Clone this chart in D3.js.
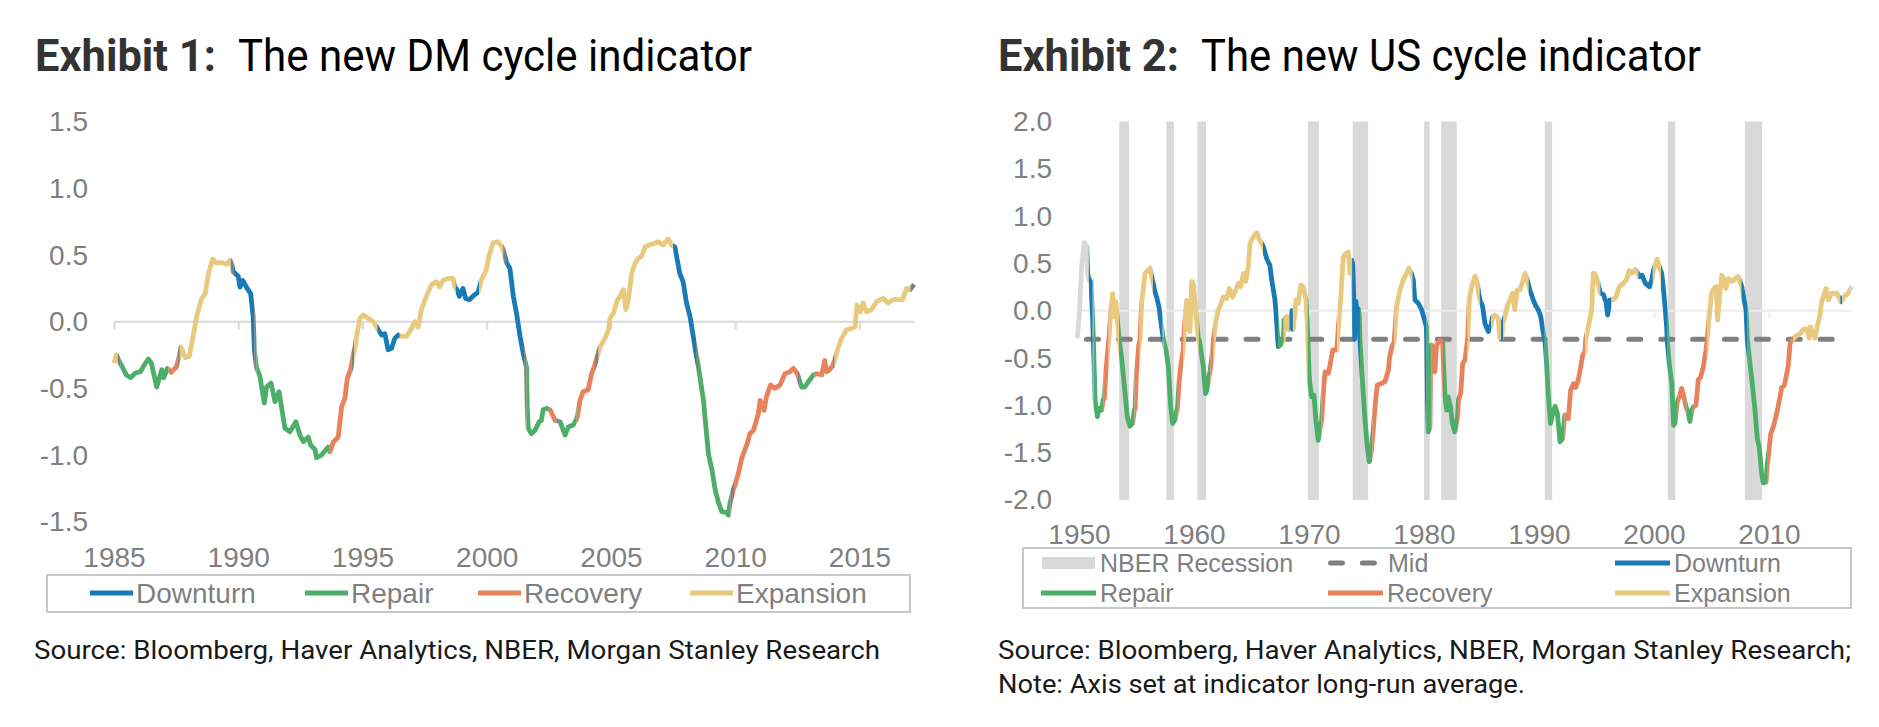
<!DOCTYPE html>
<html><head><meta charset="utf-8">
<script src="https://cdn.jsdelivr.net/npm/d3@7/dist/d3.min.js"></script>
<style>body{margin:0;background:#fff}svg{display:block}</style>
</head><body>
<svg id="c" width="1879" height="727"></svg>
<script>
// ---------- DATA ----------
const phaseNames = {D:"Downturn", R:"Repair", C:"Recovery", E:"Expansion"};
const legendOrder = ["D","R","C","E"];

const dmYTicks = [-1.5,-1.0,-0.5,0,0.5,1.0,1.5];
const dmXTicks = [1985,1990,1995,2000,2005,2010,2015];
const usYTicks = [-2.0,-1.5,-1.0,-0.5,0,0.5,1.0,1.5,2.0];
const usXTicks = [1950,1960,1970,1980,1990,2000,2010];

// [year, value]
const dmSeries = [[1985.0,-0.31],[1985.1,-0.25],[1985.25,-0.31],[1985.5,-0.40],[1985.67,-0.42],[1985.86,-0.385],[1986.06,-0.375],[1986.2,-0.33],[1986.38,-0.28],[1986.5,-0.31],[1986.72,-0.49],[1986.92,-0.36],[1987.0,-0.42],[1987.15,-0.35],[1987.3,-0.38],[1987.5,-0.34],[1987.6,-0.28],[1987.7,-0.19],[1987.87,-0.27],[1988.03,-0.26],[1988.2,-0.09],[1988.33,0.04],[1988.53,0.175],[1988.67,0.21],[1988.8,0.36],[1988.97,0.47],[1989.13,0.44],[1989.33,0.445],[1989.53,0.43],[1989.67,0.46],[1989.75,0.42],[1989.8,0.375],[1990.0,0.34],[1990.07,0.26],[1990.18,0.31],[1990.34,0.255],[1990.5,0.21],[1990.6,0.04],[1990.65,-0.21],[1990.73,-0.34],[1990.87,-0.41],[1991.05,-0.61],[1991.14,-0.49],[1991.32,-0.46],[1991.48,-0.60],[1991.64,-0.525],[1991.88,-0.80],[1992.08,-0.825],[1992.32,-0.75],[1992.48,-0.85],[1992.62,-0.90],[1992.82,-0.865],[1992.91,-0.925],[1993.09,-0.96],[1993.15,-1.02],[1993.35,-1.0],[1993.62,-0.94],[1993.69,-0.975],[1993.82,-0.905],[1994.02,-0.865],[1994.16,-0.64],[1994.29,-0.575],[1994.39,-0.425],[1994.52,-0.36],[1994.62,-0.26],[1994.7,-0.19],[1994.77,-0.10],[1994.9,0.025],[1995.03,0.05],[1995.23,0.025],[1995.43,0.0],[1995.57,-0.04],[1995.63,-0.06],[1995.77,-0.10],[1995.9,-0.09],[1996.03,-0.21],[1996.17,-0.20],[1996.3,-0.125],[1996.44,-0.10],[1996.57,-0.11],[1996.77,-0.11],[1996.97,-0.05],[1997.1,0.0],[1997.24,-0.04],[1997.37,0.09],[1997.57,0.19],[1997.77,0.275],[1997.97,0.30],[1998.1,0.26],[1998.24,0.31],[1998.44,0.325],[1998.64,0.325],[1998.7,0.265],[1998.8,0.24],[1998.9,0.19],[1999.04,0.25],[1999.15,0.175],[1999.3,0.165],[1999.5,0.20],[1999.65,0.22],[1999.78,0.31],[1999.98,0.39],[2000.1,0.50],[2000.25,0.59],[2000.45,0.60],[2000.6,0.565],[2000.68,0.53],[2000.8,0.44],[2000.93,0.40],[2001.07,0.19],[2001.2,0.06],[2001.34,-0.11],[2001.47,-0.24],[2001.6,-0.34],[2001.63,-0.64],[2001.67,-0.80],[2001.8,-0.84],[2001.94,-0.815],[2002.11,-0.75],[2002.2,-0.74],[2002.27,-0.66],[2002.4,-0.65],[2002.55,-0.66],[2002.75,-0.74],[2002.95,-0.75],[2003.15,-0.85],[2003.28,-0.79],[2003.48,-0.775],[2003.59,-0.74],[2003.65,-0.71],[2003.75,-0.59],[2003.88,-0.525],[2004.08,-0.51],[2004.22,-0.39],[2004.35,-0.325],[2004.45,-0.26],[2004.56,-0.19],[2004.76,-0.125],[2004.9,-0.06],[2004.96,0.025],[2005.1,0.065],[2005.23,0.15],[2005.36,0.19],[2005.5,0.24],[2005.6,0.09],[2005.7,0.165],[2005.83,0.36],[2005.97,0.44],[2006.1,0.475],[2006.23,0.49],[2006.37,0.56],[2006.54,0.575],[2006.7,0.585],[2006.9,0.60],[2007.1,0.575],[2007.3,0.62],[2007.44,0.575],[2007.57,0.56],[2007.77,0.36],[2007.9,0.30],[2008.04,0.14],[2008.18,0.04],[2008.31,-0.11],[2008.42,-0.24],[2008.52,-0.34],[2008.72,-0.59],[2008.92,-0.99],[2009.06,-1.11],[2009.19,-1.26],[2009.33,-1.36],[2009.46,-1.425],[2009.64,-1.43],[2009.72,-1.45],[2009.79,-1.36],[2009.92,-1.26],[2009.99,-1.225],[2010.12,-1.14],[2010.26,-1.025],[2010.46,-0.925],[2010.59,-0.84],[2010.73,-0.815],[2010.93,-0.69],[2011.0,-0.59],[2011.16,-0.665],[2011.26,-0.56],[2011.42,-0.475],[2011.6,-0.50],[2011.8,-0.475],[2012.0,-0.39],[2012.2,-0.375],[2012.34,-0.35],[2012.5,-0.39],[2012.6,-0.45],[2012.67,-0.49],[2012.8,-0.49],[2012.94,-0.45],[2013.14,-0.40],[2013.28,-0.39],[2013.48,-0.40],[2013.6,-0.29],[2013.68,-0.375],[2013.8,-0.36],[2013.92,-0.33],[2014.0,-0.29],[2014.15,-0.19],[2014.28,-0.125],[2014.48,-0.06],[2014.68,-0.05],[2014.82,-0.04],[2014.9,0.125],[2015.04,0.075],[2015.15,0.14],[2015.28,0.075],[2015.48,0.09],[2015.68,0.15],[2015.95,0.175],[2016.15,0.14],[2016.35,0.165],[2016.55,0.165],[2016.73,0.165],[2016.9,0.25],[2017.03,0.24],[2017.2,0.28]];

// [from, to, phase]  (N = unclassified)
const dmPhases = [[1985.0,1985.15,"E"],[1985.15,1985.25,"N"],[1985.25,1987.2,"R"],[1987.2,1987.55,"C"],[1987.55,1987.65,"N"],[1987.65,1989.7,"E"],[1989.7,1989.8,"N"],[1989.8,1990.64,"D"],[1990.64,1990.73,"N"],[1990.73,1993.65,"R"],[1993.65,1994.55,"C"],[1994.55,1994.66,"N"],[1994.66,1995.6,"E"],[1995.6,1996.5,"D"],[1996.5,1998.75,"E"],[1998.75,1999.7,"D"],[1999.7,2000.66,"E"],[2000.66,2000.78,"N"],[2000.78,2001.5,"D"],[2001.5,2001.6,"N"],[2001.6,2002.5,"R"],[2002.5,2002.8,"C"],[2002.8,2002.9,"N"],[2002.9,2003.62,"R"],[2003.62,2004.36,"C"],[2004.36,2004.5,"N"],[2004.5,2007.5,"E"],[2007.5,2008.42,"D"],[2008.42,2008.5,"N"],[2008.5,2009.8,"R"],[2009.8,2009.95,"N"],[2009.95,2012.5,"C"],[2012.5,2012.6,"N"],[2012.6,2013.2,"R"],[2013.2,2013.93,"C"],[2013.93,2014.0,"N"],[2014.0,2017.05,"E"],[2017.05,2017.2,"N"]];

const usSeries = [[1949.85,-0.29],[1950.03,-0.03],[1950.23,0.465],[1950.46,0.72],[1950.67,0.68],[1950.75,0.395],[1950.87,0.325],[1951.04,0.31],[1951.19,-0.10],[1951.25,-0.31],[1951.4,-0.94],[1951.6,-1.12],[1951.76,-1.03],[1951.97,-1.05],[1952.1,-0.94],[1952.2,-0.93],[1952.35,-0.63],[1952.55,-0.345],[1952.6,-0.30],[1952.75,-0.03],[1952.93,0.18],[1953.04,-0.06],[1953.2,0.095],[1953.36,-0.13],[1953.45,-0.25],[1953.5,-0.31],[1953.7,-0.49],[1954.0,-0.87],[1954.2,-1.12],[1954.43,-1.22],[1954.67,-1.19],[1954.8,-1.05],[1954.87,-1.04],[1955.0,-0.66],[1955.2,-0.36],[1955.3,-0.31],[1955.45,0.08],[1955.74,0.395],[1955.94,0.42],[1956.17,0.45],[1956.37,0.33],[1956.46,0.29],[1956.6,0.20],[1956.75,0.145],[1956.96,0.04],[1957.1,-0.10],[1957.24,-0.22],[1957.35,-0.31],[1957.56,-0.415],[1957.77,-0.59],[1957.97,-1.015],[1958.14,-1.19],[1958.35,-1.15],[1958.5,-1.05],[1958.55,-1.04],[1958.72,-0.73],[1958.84,-0.59],[1959.05,-0.43],[1959.1,-0.31],[1959.16,-0.17],[1959.36,0.11],[1959.5,-0.20],[1959.65,-0.22],[1959.8,0.31],[1959.94,0.29],[1960.17,-0.03],[1960.37,-0.29],[1960.46,-0.31],[1960.81,-0.59],[1961.0,-0.875],[1961.1,-0.85],[1961.25,-0.73],[1961.4,-0.63],[1961.45,-0.59],[1961.6,-0.45],[1961.7,-0.30],[1961.9,-0.115],[1962.1,0.0],[1962.4,0.095],[1962.55,0.145],[1962.84,0.13],[1963.07,0.235],[1963.36,0.145],[1963.56,0.2],[1963.86,0.29],[1964.06,0.255],[1964.3,0.395],[1964.5,0.31],[1964.72,0.465],[1964.87,0.71],[1965.16,0.78],[1965.45,0.825],[1965.68,0.75],[1965.9,0.71],[1966.03,0.675],[1966.32,0.55],[1966.6,0.48],[1966.76,0.325],[1966.9,0.22],[1967.04,0.115],[1967.13,-0.02],[1967.25,-0.24],[1967.33,-0.38],[1967.53,-0.36],[1967.77,-0.31],[1967.83,-0.10],[1968.06,-0.06],[1968.2,-0.2],[1968.35,-0.15],[1968.5,0.0],[1968.63,-0.2],[1968.87,0.115],[1969.07,0.08],[1969.28,0.27],[1969.5,0.255],[1969.74,0.115],[1969.85,-0.13],[1969.9,-0.31],[1970.03,-0.73],[1970.23,-0.91],[1970.43,-0.89],[1970.6,-1.155],[1970.8,-1.37],[1971.04,-1.19],[1971.1,-1.155],[1971.24,-0.875],[1971.4,-0.645],[1971.68,-0.66],[1971.83,-0.575],[1972.06,-0.415],[1972.4,-0.415],[1972.48,-0.31],[1972.55,-0.17],[1972.75,0.115],[1972.98,0.57],[1973.2,0.605],[1973.42,0.62],[1973.56,0.395],[1973.7,0.535],[1973.8,0.5],[1973.9,0.115],[1973.97,-0.3],[1974.08,0.1],[1974.2,-0.05],[1974.3,0.02],[1974.37,-0.045],[1974.43,-0.31],[1974.66,-0.77],[1974.87,-1.155],[1975.07,-1.44],[1975.24,-1.595],[1975.4,-1.5],[1975.54,-1.33],[1975.74,-1.015],[1975.94,-0.785],[1976.3,-0.77],[1976.6,-0.75],[1976.9,-0.63],[1977.0,-0.5],[1977.2,-0.38],[1977.4,-0.33],[1977.48,-0.2],[1977.62,0.04],[1977.9,0.22],[1978.2,0.325],[1978.47,0.395],[1978.7,0.45],[1978.9,0.395],[1979.07,0.325],[1979.2,0.115],[1979.5,0.08],[1979.8,0.01],[1980.1,-0.12],[1980.2,-0.17],[1980.24,-0.31],[1980.3,-0.94],[1980.37,-1.28],[1980.52,-1.225],[1980.58,-0.52],[1980.67,-0.36],[1980.8,-0.59],[1980.94,-0.645],[1981.1,-0.36],[1981.4,-0.31],[1981.62,-0.33],[1981.67,-0.50],[1981.83,-0.91],[1981.97,-1.05],[1982.1,-0.91],[1982.3,-1.015],[1982.47,-1.19],[1982.67,-1.28],[1982.9,-1.14],[1983.0,-0.94],[1983.19,-0.875],[1983.36,-0.56],[1983.56,-0.52],[1983.71,-0.38],[1983.8,-0.28],[1983.94,0.115],[1984.14,0.255],[1984.43,0.365],[1984.63,0.29],[1984.8,0.15],[1984.86,0.115],[1985.1,0.045],[1985.3,-0.135],[1985.6,-0.22],[1985.8,-0.17],[1985.97,-0.06],[1986.17,-0.045],[1986.46,-0.08],[1986.6,-0.28],[1986.76,-0.29],[1986.84,-0.135],[1987.04,-0.06],[1987.24,0.045],[1987.48,0.115],[1987.71,0.185],[1987.9,0.01],[1988.1,0.22],[1988.35,0.22],[1988.58,0.31],[1988.78,0.395],[1988.98,0.325],[1989.2,0.22],[1989.5,0.115],[1989.74,0.045],[1989.94,0.01],[1990.15,-0.06],[1990.32,-0.20],[1990.46,-0.29],[1990.52,-0.31],[1990.67,-0.575],[1990.8,-0.875],[1991.0,-1.19],[1991.2,-1.085],[1991.4,-1.01],[1991.6,-1.085],[1991.83,-1.385],[1992.06,-1.35],[1992.17,-1.19],[1992.26,-1.1],[1992.55,-1.14],[1992.75,-0.84],[1993.0,-0.77],[1993.2,-0.81],[1993.42,-0.73],[1993.57,-0.63],[1993.8,-0.47],[1994.0,-0.43],[1994.05,-0.31],[1994.29,-0.17],[1994.58,0.01],[1994.72,0.395],[1994.87,0.39],[1995.07,0.325],[1995.3,0.2],[1995.36,0.185],[1995.6,0.17],[1995.82,0.095],[1995.97,-0.045],[1996.17,0.115],[1996.4,0.115],[1996.7,0.145],[1996.98,0.255],[1997.33,0.29],[1997.6,0.325],[1997.85,0.425],[1998.1,0.395],[1998.4,0.435],[1998.6,0.395],[1998.7,0.36],[1998.96,0.375],[1999.25,0.29],[1999.6,0.255],[1999.8,0.325],[1999.96,0.43],[2000.28,0.545],[2000.5,0.45],[2000.67,0.395],[2000.8,0.255],[2000.96,0.045],[2001.1,-0.17],[2001.15,-0.31],[2001.33,-0.56],[2001.55,-0.77],[2001.7,-1.21],[2001.83,-1.19],[2001.97,-1.015],[2002.03,-0.96],[2002.2,-0.91],[2002.4,-0.82],[2002.6,-0.91],[2002.78,-1.015],[2002.9,-1.05],[2003.13,-1.17],[2003.3,-1.05],[2003.42,-1.015],[2003.65,-1.0],[2003.85,-0.73],[2004.06,-0.7],[2004.29,-0.59],[2004.52,-0.415],[2004.62,-0.31],[2004.8,-0.06],[2005.0,0.185],[2005.2,0.235],[2005.4,0.255],[2005.54,-0.10],[2005.68,0.115],[2005.9,0.375],[2006.1,0.325],[2006.26,0.235],[2006.46,0.34],[2006.76,0.31],[2007.04,0.34],[2007.33,0.36],[2007.54,0.29],[2007.63,0.255],[2007.83,0.115],[2008.0,0.01],[2008.08,-0.20],[2008.12,-0.31],[2008.35,-0.56],[2008.58,-0.81],[2008.78,-1.05],[2008.98,-1.35],[2009.15,-1.44],[2009.36,-1.72],[2009.5,-1.82],[2009.74,-1.81],[2009.85,-1.62],[2009.94,-1.54],[2010.15,-1.30],[2010.37,-1.23],[2010.67,-1.085],[2010.96,-0.91],[2011.1,-0.81],[2011.33,-0.79],[2011.54,-0.665],[2011.68,-0.575],[2011.83,-0.345],[2012.06,-0.31],[2012.26,-0.275],[2012.7,-0.24],[2012.98,-0.2],[2013.27,-0.19],[2013.5,-0.29],[2013.6,-0.17],[2014.0,-0.29],[2014.2,-0.17],[2014.43,-0.045],[2014.58,0.095],[2014.96,0.235],[2015.16,0.115],[2015.46,0.185],[2015.9,0.185],[2016.12,0.13],[2016.25,0.095],[2016.52,0.15],[2016.9,0.185],[2017.1,0.235],[2017.2,0.26]];

const usPhases = [[1949.85,1950.85,"N"],[1950.85,1951.2,"D"],[1951.2,1951.25,"N"],[1951.25,1952.15,"R"],[1952.15,1952.58,"C"],[1952.58,1953.48,"E"],[1953.48,1954.83,"R"],[1954.83,1955.28,"C"],[1955.28,1956.42,"E"],[1956.42,1957.28,"D"],[1957.28,1957.35,"N"],[1957.35,1958.52,"R"],[1958.52,1959.08,"C"],[1959.08,1960.42,"E"],[1960.42,1961.42,"R"],[1961.42,1961.7,"C"],[1961.7,1966.0,"E"],[1966.0,1967.3,"D"],[1967.3,1967.8,"R"],[1967.8,1968.3,"E"],[1968.3,1968.6,"D"],[1968.6,1969.88,"E"],[1969.88,1971.07,"R"],[1971.07,1972.44,"C"],[1972.44,1972.5,"N"],[1972.5,1973.75,"E"],[1973.75,1974.43,"D"],[1974.43,1975.5,"R"],[1975.5,1977.44,"C"],[1977.44,1979.0,"E"],[1979.0,1980.22,"D"],[1980.22,1980.62,"R"],[1980.62,1981.65,"C"],[1981.65,1982.95,"R"],[1982.95,1983.78,"C"],[1983.78,1984.85,"E"],[1984.85,1985.85,"D"],[1985.85,1986.7,"E"],[1986.7,1986.9,"D"],[1986.9,1989.1,"E"],[1989.1,1990.5,"D"],[1990.5,1992.22,"R"],[1992.22,1994.0,"C"],[1994.0,1994.08,"N"],[1994.08,1995.33,"E"],[1995.33,1996.3,"D"],[1996.3,1998.65,"E"],[1998.65,1999.9,"D"],[1999.9,2000.6,"E"],[2000.6,2001.14,"D"],[2001.14,2002.0,"R"],[2002.0,2002.82,"C"],[2002.82,2003.38,"R"],[2003.38,2004.6,"C"],[2004.6,2007.6,"E"],[2007.6,2008.1,"D"],[2008.1,2009.9,"R"],[2009.9,2012.08,"C"],[2012.08,2016.2,"E"],[2016.2,2016.35,"D"],[2016.35,2017.1,"E"],[2017.1,2017.2,"N"]];

const usRecessions = [[1953.5,1954.35],[1957.6,1958.25],[1960.3,1961.05],[1969.9,1970.85],[1973.8,1975.15],[1980.0,1980.5],[1981.5,1982.85],[1990.5,1991.15],[2001.2,2001.85],[2007.9,2009.4]];
const usMid = -0.3;
const usMidSpan = [1950.65, 2015.65];

// ---------- STYLE ----------
const colors = {D:"#187bb5", R:"#4cae69", C:"#e8825d", E:"#e8c97e"};
const grayAxis = "#7f7f7f";
const svg = d3.select("#c");
const defs = svg.append("defs");

function drawSeries(g, data, phases, x, y, noneColor, id) {
  const line = d3.line().x(d => x(d[0])).y(d => y(d[1]));
  phases.forEach((p, i) => {
    const cid = id + "clip" + i;
    const x0 = x(p[0]) - (i === 0 ? 4 : 0);
    const x1 = x(p[1]) + (i === phases.length - 1 ? 4 : 0);
    defs.append("clipPath").attr("id", cid).append("rect")
      .attr("x", x0).attr("y", 0).attr("width", x1 - x0).attr("height", 727);
    g.append("path").datum(data).attr("d", line)
      .attr("clip-path", `url(#${cid})`)
      .attr("fill", "none")
      .attr("stroke", p[2] === "N" ? noneColor : colors[p[2]])
      .attr("stroke-width", 4.8)
      .attr("stroke-linejoin", "round");
  });
}

function styleAxisText(g, size) {
  g.selectAll("text").attr("font-family", "'Liberation Sans', Arial, sans-serif")
    .attr("font-size", size).attr("fill", grayAxis);
  g.select(".domain").remove();
}
const fmt = d => d.toFixed(1);

// ---------- CHART 1 ----------
{
  const x = d3.scaleLinear().domain([1985, 2015]).range([114, 859.5]);
  const y = d3.scaleLinear().domain([-1.5, 1.5]).range([521.7, 121.7]);
  const g = svg.append("g");

  g.append("text").attr("x", 35).attr("y", 71).attr("font-family", "Roboto, sans-serif")
    .attr("font-size", 44).attr("font-weight", "bold").attr("fill", "#333")
    .attr("textLength", 181).attr("lengthAdjust", "spacingAndGlyphs").text("Exhibit 1:");
  g.append("text").attr("x", 238).attr("y", 71).attr("font-family", "Roboto, sans-serif")
    .attr("font-size", 44).attr("fill", "#000")
    .attr("textLength", 514).attr("lengthAdjust", "spacingAndGlyphs").text("The new DM cycle indicator");

  const ya = g.append("g").attr("transform", "translate(91,0)")
    .call(d3.axisLeft(y).tickValues(dmYTicks).tickFormat(fmt).tickSize(0).tickPadding(3));
  styleAxisText(ya, 28);

  g.append("line").attr("x1", x(1985)).attr("x2", x(2017.2)).attr("y1", y(0)).attr("y2", y(0))
    .attr("stroke", "#d9d9d9").attr("stroke-width", 2);
  const tk = g.append("g").attr("transform", `translate(0,${y(0)})`)
    .call(d3.axisBottom(x).tickValues(dmXTicks).tickFormat("").tickSize(8));
  tk.select(".domain").remove();
  tk.selectAll("line").attr("stroke", "#d9d9d9").attr("stroke-width", 2);

  const xa = g.append("g").attr("transform", "translate(0,547)")
    .call(d3.axisBottom(x).tickValues(dmXTicks).tickFormat(d3.format("d")).tickSize(0).tickPadding(0));
  styleAxisText(xa, 28);

  drawSeries(g.append("g"), dmSeries, dmPhases, x, y, "#808080", "dm");

  g.append("rect").attr("x", 47).attr("y", 575).attr("width", 863).attr("height", 37)
    .attr("fill", "none").attr("stroke", "#c8c8c8").attr("stroke-width", 2);
  const lx = [90, 305, 478, 690];
  legendOrder.forEach((k, i) => {
    g.append("line").attr("x1", lx[i]).attr("x2", lx[i] + 43).attr("y1", 593).attr("y2", 593)
      .attr("stroke", colors[k]).attr("stroke-width", 4.8);
    g.append("text").attr("x", lx[i] + 46).attr("y", 603)
      .attr("font-family", "'Liberation Sans', Arial, sans-serif").attr("font-size", 28)
      .attr("fill", grayAxis).text(phaseNames[k]);
  });

  g.append("text").attr("x", 34).attr("y", 659).attr("font-family", "Roboto, sans-serif")
    .attr("font-size", 25).attr("fill", "#1a1a1a")
    .attr("textLength", 846).attr("lengthAdjust", "spacingAndGlyphs")
    .text("Source: Bloomberg, Haver Analytics, NBER, Morgan Stanley Research");
}

// ---------- CHART 2 ----------
{
  const x = d3.scaleLinear().domain([1950, 2010]).range([1079, 1769]);
  const y = d3.scaleLinear().domain([-2, 2]).range([500, 121.5]);
  const g = svg.append("g");

  g.append("text").attr("x", 998).attr("y", 71).attr("font-family", "Roboto, sans-serif")
    .attr("font-size", 44).attr("font-weight", "bold").attr("fill", "#333")
    .attr("textLength", 181).attr("lengthAdjust", "spacingAndGlyphs").text("Exhibit 2:");
  g.append("text").attr("x", 1201).attr("y", 71).attr("font-family", "Roboto, sans-serif")
    .attr("font-size", 44).attr("fill", "#000")
    .attr("textLength", 500).attr("lengthAdjust", "spacingAndGlyphs").text("The new US cycle indicator");

  g.selectAll("rect.rec").data(usRecessions).join("rect").attr("class", "rec")
    .attr("x", d => x(d[0])).attr("width", d => x(d[1]) - x(d[0]))
    .attr("y", y(2)).attr("height", y(-2) - y(2)).attr("fill", "#d9d9d9");

  const ya = g.append("g").attr("transform", "translate(1055,0)")
    .call(d3.axisLeft(y).tickValues(usYTicks).tickFormat(fmt).tickSize(0).tickPadding(3));
  styleAxisText(ya, 28);

  g.append("line").attr("x1", x(1949.9)).attr("x2", x(2017.2)).attr("y1", y(0)).attr("y2", y(0))
    .attr("stroke", "#ececec").attr("stroke-width", 2);
  const tk = g.append("g").attr("transform", `translate(0,${y(0)})`)
    .call(d3.axisBottom(x).tickValues(usXTicks).tickFormat("").tickSize(8));
  tk.select(".domain").remove();
  tk.selectAll("line").attr("stroke", "#ececec").attr("stroke-width", 2);

  const xa = g.append("g").attr("transform", "translate(0,524)")
    .call(d3.axisBottom(x).tickValues(usXTicks).tickFormat(d3.format("d")).tickSize(0).tickPadding(0));
  styleAxisText(xa, 28);

  g.append("line").attr("x1", x(usMidSpan[0])).attr("x2", x(usMidSpan[1]))
    .attr("y1", y(usMid)).attr("y2", y(usMid))
    .attr("stroke", "#7f7f7f").attr("stroke-width", 5).attr("stroke-linecap", "round")
    .attr("stroke-dasharray", "12 19.9");

  drawSeries(g.append("g"), usSeries, usPhases, x, y, "#d9d9d9", "us");

  g.append("rect").attr("x", 1023).attr("y", 548).attr("width", 828).attr("height", 60)
    .attr("fill", "none").attr("stroke", "#c8c8c8").attr("stroke-width", 2);
  const lf = "'Liberation Sans', Arial, sans-serif";
  const txt = (tx, ty, s) => g.append("text").attr("x", tx).attr("y", ty).attr("font-family", lf)
    .attr("font-size", 25).attr("fill", grayAxis).text(s);
  g.append("rect").attr("x", 1042).attr("y", 557).attr("width", 53).attr("height", 12).attr("fill", "#d9d9d9");
  txt(1100, 572, "NBER Recession");
  g.append("line").attr("x1", 1330.5).attr("x2", 1378).attr("y1", 563).attr("y2", 563)
    .attr("stroke", "#7f7f7f").attr("stroke-width", 5).attr("stroke-linecap", "round")
    .attr("stroke-dasharray", "12 19.9");
  txt(1388, 572, "Mid");
  const rows = [["D", 1615, 563, 572], ["R", 1041, 593, 602], ["C", 1328, 593, 602], ["E", 1615, 593, 602]];
  rows.forEach(([k, lx, ly, ty]) => {
    g.append("line").attr("x1", lx).attr("x2", lx + 55).attr("y1", ly).attr("y2", ly)
      .attr("stroke", colors[k]).attr("stroke-width", 4.8);
    txt(lx + 59, ty, phaseNames[k]);
  });

  const sf = "Roboto, sans-serif";
  g.append("text").attr("x", 998).attr("y", 659).attr("font-family", sf).attr("font-size", 25)
    .attr("fill", "#1a1a1a").attr("textLength", 853).attr("lengthAdjust", "spacingAndGlyphs")
    .text("Source: Bloomberg, Haver Analytics, NBER, Morgan Stanley Research;");
  g.append("text").attr("x", 998).attr("y", 693).attr("font-family", sf).attr("font-size", 25)
    .attr("fill", "#1a1a1a").attr("textLength", 527).attr("lengthAdjust", "spacingAndGlyphs")
    .text("Note: Axis set at indicator long-run average.");
}
</script>
</body></html>
